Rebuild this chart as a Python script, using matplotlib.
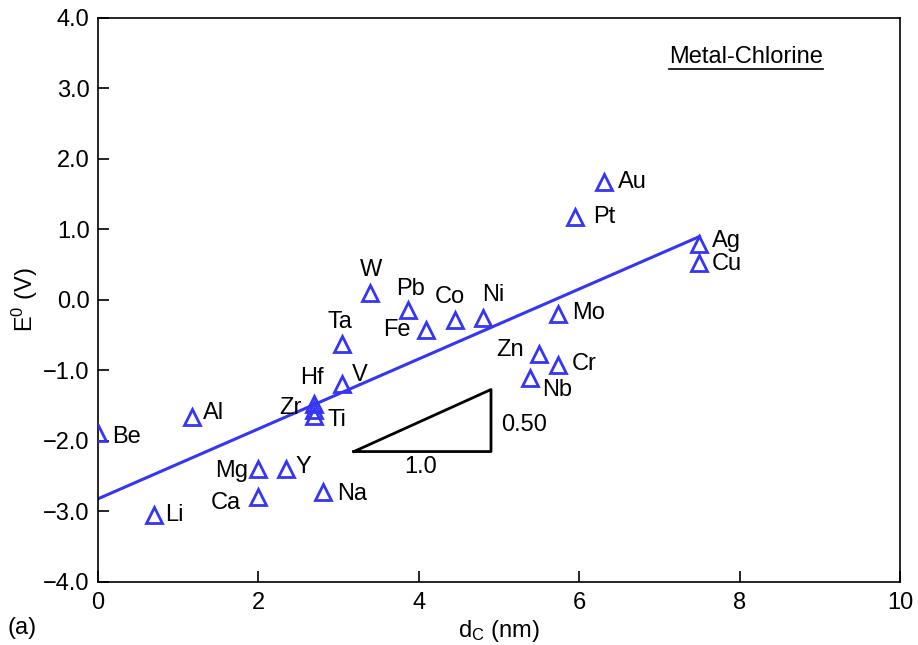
import numpy as np
import matplotlib.pyplot as plt
from matplotlib.lines import Line2D

plt.rcParams['font.family'] = ['Liberation Sans', 'DejaVu Sans']
plt.rcParams['mathtext.default'] = 'regular'

FS = 17

# metal-chloride data: cathode distance d_C (nm) and standard potential E0 (V)
metals = ["Be", "Li", "Al", "Mg", "Ca", "Y", "Na", "Hf", "Zr", "Ti", "V", "Ta",
          "W", "Pb", "Fe", "Co", "Ni", "Mo", "Zn", "Cr", "Nb", "Au", "Pt", "Ag", "Cu"]
d_c = [0.0, 0.70, 1.17, 2.0, 2.0, 2.34, 2.81, 2.69, 2.69, 2.69, 3.04, 3.04,
       3.39, 3.87, 4.09, 4.45, 4.80, 5.74, 5.50, 5.74, 5.39, 6.31, 5.95, 7.49, 7.49]
e0 = [-1.88, -3.05, -1.66, -2.40, -2.79, -2.40, -2.73, -1.48, -1.56, -1.64, -1.19, -0.62,
      0.10, -0.14, -0.42, -0.29, -0.25, -0.20, -0.77, -0.92, -1.11, 1.68, 1.18, 0.79, 0.52]

# linear fit shown on the plot
fit_x = [0.0, 7.5]
fit_slope = 0.496
fit_icpt = -2.82

# slope triangle (run 1.0, rise 0.50)
tri_x = [3.19, 4.90, 4.90, 3.19]
tri_y = [-2.15, -2.15, -1.27, -2.15]

# label offsets in pixels and horizontal alignment
label_pos = {
    "Be": (14, -4, "left"), "Li": (11, 0, "left"), "Al": (11, 4, "left"),
    "Mg": (-10, -2, "right"), "Ca": (-18, -6, "right"), "Y": (10, 2, "left"),
    "Na": (14, -2, "left"), "Hf": (-2, 26, "center"), "Zr": (-12, 2, "right"),
    "Ti": (14, -4, "left"), "V": (10, 9, "left"), "Ta": (-2, 22, "center"),
    "W": (1, 23, "center"), "Pb": (2, 21, "center"), "Fe": (-15, 0, "right"),
    "Co": (-5, 23, "center"), "Ni": (10, 23, "center"), "Mo": (14, 1, "left"),
    "Zn": (-15, 4, "right"), "Cr": (13, 1, "left"), "Nb": (12, -12, "left"),
    "Au": (14, 0, "left"), "Pt": (18, 0, "left"), "Ag": (13, 3, "left"),
    "Cu": (13, -1, "left"),
}

blue = "#3535f5"

fig = plt.figure(figsize=(9.18, 6.45), dpi=100)
ax = fig.add_axes([0.1068, 0.0977, 0.8736, 0.8744])

xf = np.array(fit_x)
ax.plot(xf, fit_slope * xf + fit_icpt, color=blue, lw=2.2, zorder=2)

ax.plot(d_c, e0, linestyle="none", marker="^", markersize=12, markerfacecolor="none",
        markeredgecolor=blue, markeredgewidth=2.0, zorder=3, clip_on=True)

for name, x, y in zip(metals, d_c, e0):
    dx, dy, ha = label_pos[name]
    ax.annotate(name, (x, y), xytext=(dx, dy), textcoords="offset pixels",
                ha=ha, va="center", fontsize=FS, color="black")

ax.plot(tri_x, tri_y, color="black", lw=2.0, zorder=2)
ax.text(4.02, -2.37, "1.0", ha="center", va="center", fontsize=FS)
ax.text(5.02, -1.77, "0.50", ha="left", va="center", fontsize=FS)

ax.set_xlim(0, 10)
ax.set_ylim(-4, 4)
ax.set_xticks([0, 2, 4, 6, 8, 10])
yt = np.arange(-4, 4.01, 1.0)
ax.set_yticks(yt)
ax.set_yticklabels([f"{v:.1f}".replace("-", "\u2212") for v in yt])
ax.tick_params(direction="in", length=8, width=1.2, labelsize=FS, top=False, right=False)
ax.tick_params(axis="x", pad=7)
ax.tick_params(axis="y", pad=6)
for sp in ax.spines.values():
    sp.set_linewidth(1.2)

ax.set_xlabel("d$_C$ (nm)", fontsize=FS, labelpad=3)
ax.set_ylabel("E$^0$ (V)", fontsize=FS, labelpad=2)

title = ax.text(746 / 918, 1 - 57 / 645, "Metal-Chlorine", transform=fig.transFigure,
                ha="center", va="center", fontsize=FS)

fig.text(22 / 918, 1 - 628 / 645, "(a)", ha="center", va="center", fontsize=FS)

# underline under the panel title
fig.canvas.draw()
bb = title.get_window_extent()
uy = (bb.y0 - 1) / fig.bbox.height
fig.add_artist(Line2D([bb.x0 / fig.bbox.width, bb.x1 / fig.bbox.width], [uy, uy],
                      color="black", lw=1.2, transform=fig.transFigure))

fig.savefig("out.png", dpi=100)
